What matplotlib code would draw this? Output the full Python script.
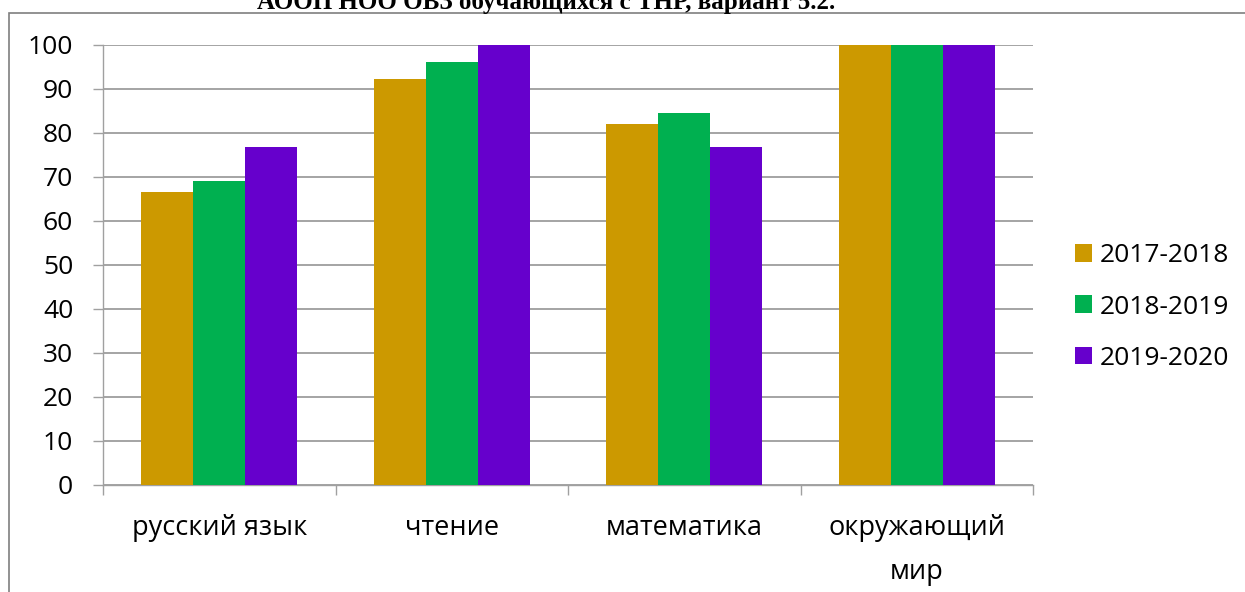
import numpy as np
import matplotlib.pyplot as plt
from matplotlib.patches import Patch, Rectangle

categories = ['русский язык', 'чтение', 'математика', 'окружающий\nмир']
years = ['2017-2018', '2018-2019', '2019-2020']
v2017 = [66.5, 92.3, 82.0, 100]
v2018 = [69.2, 96.2, 84.6, 100]
v2019 = [76.9, 100, 76.9, 100]
colors = ['#CC9900', '#00B050', '#6600CC']
yticks = [0, 10, 20, 30, 40, 50, 60, 70, 80, 90, 100]

W, H = 1245, 592
plt.rcParams['font.family'] = ['Open Sans', 'DejaVu Sans']
fig = plt.figure(figsize=(W / 100, H / 100), dpi=100)
ax = fig.add_axes([103 / W, 1 - 485 / H, (1033 - 103) / W, (485 - 45) / H])

x = np.arange(len(categories))
bw = 0.2237
series = [v2017, v2018, v2019]
for i, vals in enumerate(series):
    ax.bar(x + (i - 1) * bw, vals, bw, color=colors[i], zorder=3, linewidth=0)

ax.set_xlim(-0.5, 3.5)
ax.set_ylim(0, 100)
ax.set_yticks(yticks)
ax.grid(axis='y', color='#8c8c8c', linewidth=1.1, zorder=0)
ax.set_xticks(x)
ax.set_xticklabels(categories, fontsize=19.5, linespacing=1.75, va='top')
ax.set_xticks(np.arange(-0.5, 4, 1), minor=True)
ax.tick_params(axis='x', which='major', length=0, pad=21)
ax.tick_params(axis='x', which='minor', length=7.5, width=1.0, color='#a0a0a0')
ax.tick_params(axis='y', length=7.5, width=1.0, color='#a0a0a0', pad=14, labelsize=19)
for s in ['top', 'right']:
    ax.spines[s].set_visible(False)
for s in ['left', 'bottom']:
    ax.spines[s].set_color('#a0a0a0')
    ax.spines[s].set_linewidth(1.0)

handles = [Patch(facecolor=c, edgecolor='none') for c in colors]
fig.legend(handles, years, loc='center left', bbox_to_anchor=(1075 / W, 1 - 307 / H),
           frameon=False, fontsize=19, handlelength=0.65, handleheight=0.65,
           handletextpad=0.3, labelspacing=1.0, borderpad=0, borderaxespad=0)

# outer chart frame
fig.patches.append(Rectangle((8.5 / W, -0.1), 1.2, (H - 13) / H + 0.1,
                             transform=fig.transFigure, fill=False,
                             edgecolor='#7f7f7f', linewidth=1.2))
fig.text(546 / W, 1 - 9 / H, 'АООП НОО ОВЗ обучающихся с ТНР, вариант 5.2.',
         family='Liberation Serif', weight='bold', fontsize=18,
         ha='center', va='baseline')

fig.savefig('out.png', dpi=100)
